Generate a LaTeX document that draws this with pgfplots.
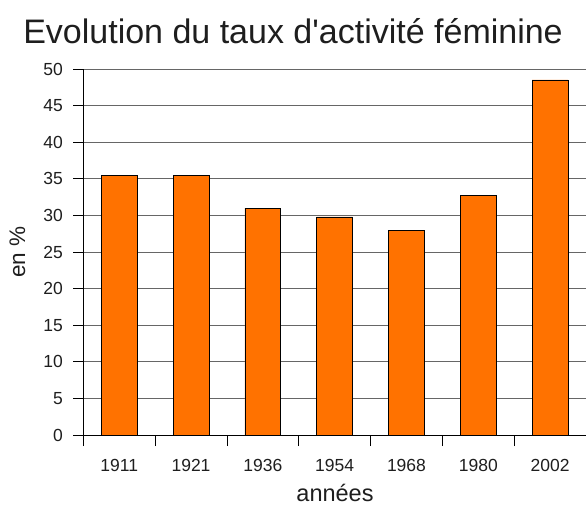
\documentclass[border=0pt]{standalone}
\usepackage{pgfplots}
\pgfplotsset{compat=1.18}
\usepackage{fontspec}
\setmainfont{Liberation Sans}
\newfontfamily\titlefont{Liberation Sans}
\definecolor{barorange}{RGB}{255,114,0}
\definecolor{txt}{RGB}{30,30,30}
\begin{document}
\begin{tikzpicture}[x=1pt,y=1pt]
\path[use as bounding box] (-83.3,-77) rectangle (502.7,435);
\begin{axis}[
  at={(0,0)}, anchor=south west,
  scale only axis, width=502.7pt, height=366pt,
  xmin=-0.5, xmax=6.5, ymin=0, ymax=50,
  ybar, bar width=0.5,
  axis lines=left, axis line style={-, black, line width=0.8pt},
  xtick={0,...,6},
  xticklabels={1911,1921,1936,1954,1968,1980,2002},
  minor xtick={-0.5,0.5,...,6.5},
  major x tick style={draw=none},
  minor x tick style={black, line width=0.8pt},
  minor tick length=11pt,
  ytick={0,5,...,50},
  y tick style={black, line width=0.8pt},
  major tick length=10pt,
  tick align=outside,
  ymajorgrids, grid style={gray!80!black, line width=0.8pt},
  /pgf/number format/assume math mode=true,
  ticklabel style={font=\fontsize{17.5}{17.5}\selectfont, text=txt},
  xticklabel style={yshift=-11pt},
  yticklabel style={xshift=-7pt},
  clip=false,
]
\addplot[fill=barorange, draw=black, line width=0.7pt] coordinates {
(0,35.5) (1,35.5) (2,31.0) (3,29.8) (4,27.9) (5,32.7) (6,48.5)};
\end{axis}
\node[text=txt, font=\titlefont\fontsize{34}{34}\selectfont] at (209.7,404) {Evolution du taux d'activité féminine};
\node[text=txt, font=\fontsize{23.5}{23.5}\selectfont] at (251.7,-58) {années};
\node[text=txt, font=\fontsize{22.5}{22.5}\selectfont, rotate=90] at (-65.8,183) {en \%};
\end{tikzpicture}
\end{document}
